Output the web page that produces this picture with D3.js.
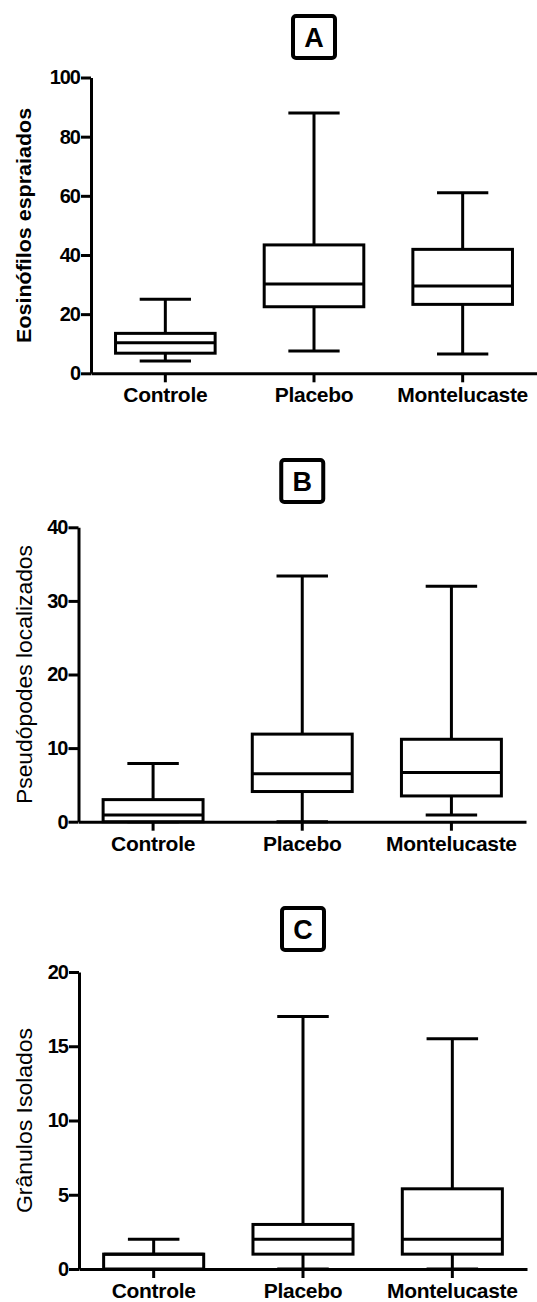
<!DOCTYPE html>
<html>
<head>
<meta charset="utf-8">
<script src="https://cdn.jsdelivr.net/npm/d3@7"></script>
<style>
body { margin: 0; background: #fff; }
</style>
</head>
<body>
<div id="chart"></div>
<script>
var groups = ["Controle", "Placebo", "Montelucaste"];

// each row: [min, q1, median, q3, max]
var eosinofilos = [[4.2, 6.8, 10.3, 13.5, 25], [7.5, 22.5, 30.2, 43.4, 88], [6.5, 23.3, 29.5, 41.9, 61]];
var pseudopodes = [[0, 0, 0.9, 3, 7.9], [0, 4.1, 6.5, 11.9, 33.4], [0.9, 3.5, 6.7, 11.2, 32]];
var granulos = [[0, 0, 1, 1, 2], [0, 1, 2, 3, 17], [0, 1, 2, 5.4, 15.5]];

var ticksA = [0, 20, 40, 60, 80, 100];
var ticksB = [0, 10, 20, 30, 40];
var ticksC = [0, 5, 10, 15, 20];

var titles = ["A", "B", "C"];
var yLabels = ["Eosinófilos espraiados", "Pseudópodes localizados", "Grânulos Isolados"];

var font = "'Liberation Sans', Arial, Helvetica, sans-serif";

var svg = d3.select("#chart")
  .append("svg")
    .attr("width", 537)
    .attr("height", 1302);

// layout of the three stacked panels
var panels = [
  {stats: eosinofilos, ticks: ticksA, left: 91, right: 537, top: 77.5, bottom: 373.3, titleTop: 14, labelBold: true, labelLen: 235},
  {stats: pseudopodes, ticks: ticksB, left: 78.5, right: 526, top: 527.3, bottom: 821.7, titleTop: 458, labelBold: false, labelLen: 259},
  {stats: granulos, ticks: ticksC, left: 79, right: 527, top: 972, bottom: 1269, titleTop: 906, labelBold: false, labelLen: 185}
];

panels.forEach(function(p, i) {
  var g = svg.append("g");

  var x = d3.scaleBand()
    .domain(groups)
    .range([p.left, p.right]);

  var y = d3.scaleLinear()
    .domain([0, d3.max(p.ticks)])
    .range([p.bottom, p.top]);

  // y axis
  var ya = g.append("g")
    .attr("transform", "translate(" + p.left + ",0)")
    .call(d3.axisLeft(y).tickValues(p.ticks).tickSize(10).tickSizeOuter(0).tickPadding(1));
  ya.selectAll("path, line").attr("stroke", "#000").attr("stroke-width", 3);
  ya.selectAll("text")
    .attr("font-family", font)
    .attr("font-size", 20)
    .attr("font-weight", "bold")
    .attr("letter-spacing", -1)
    .attr("fill", "#000");

  // x axis
  var xa = g.append("g")
    .attr("transform", "translate(0," + p.bottom + ")")
    .call(d3.axisBottom(x).tickSize(9).tickSizeOuter(0).tickPadding(5));
  xa.selectAll("path, line").attr("stroke", "#000").attr("stroke-width", 3);
  xa.selectAll("text")
    .attr("font-family", font)
    .attr("font-size", 21)
    .attr("font-weight", "bold")
    .attr("letter-spacing", -0.3)
    .attr("fill", "#000");

  var step = x.step();
  var boxW = step * 0.67;
  var capW = step * 0.345;

  var box = g.selectAll(".box")
    .data(p.stats)
    .join("g")
      .attr("class", "box")
      .attr("transform", function(d, j) { return "translate(" + (x(groups[j]) + x.bandwidth() / 2) + ",0)"; });

  // whiskers
  box.append("line")
    .attr("x1", 0).attr("x2", 0)
    .attr("y1", function(d) { return y(d[3]); })
    .attr("y2", function(d) { return y(d[4]); });
  box.append("line")
    .attr("x1", 0).attr("x2", 0)
    .attr("y1", function(d) { return y(d[1]); })
    .attr("y2", function(d) { return y(d[0]); });
  box.append("line")
    .attr("x1", -capW / 2).attr("x2", capW / 2)
    .attr("y1", function(d) { return y(d[4]); })
    .attr("y2", function(d) { return y(d[4]); });
  box.append("line")
    .attr("x1", -capW / 2).attr("x2", capW / 2)
    .attr("y1", function(d) { return y(d[0]); })
    .attr("y2", function(d) { return y(d[0]); });

  box.append("rect")
    .attr("x", -boxW / 2)
    .attr("width", boxW)
    .attr("y", function(d) { return y(d[3]); })
    .attr("height", function(d) { return y(d[1]) - y(d[3]); })
    .attr("fill", "#fff");

  box.append("line")
    .attr("x1", -boxW / 2).attr("x2", boxW / 2)
    .attr("y1", function(d) { return y(d[2]); })
    .attr("y2", function(d) { return y(d[2]); });

  box.selectAll("line, rect")
    .attr("stroke", "#000")
    .attr("stroke-width", 3);

  // y axis title
  var cy = (p.top + p.bottom) / 2;
  g.append("text")
    .attr("transform", "translate(24," + cy + ") rotate(-90)")
    .attr("text-anchor", "middle")
    .attr("dy", "0.35em")
    .attr("font-family", font)
    .attr("font-size", p.labelBold ? 21 : 22)
    .attr("font-weight", p.labelBold ? "bold" : "normal")
    .attr("textLength", p.labelLen)
    .attr("lengthAdjust", "spacingAndGlyphs")
    .text(yLabels[i]);

  // boxed panel letter above the middle group
  var tx = x(groups[1]) + x.bandwidth() / 2;
  g.append("rect")
    .attr("x", tx - 21)
    .attr("y", p.titleTop + 2)
    .attr("width", 42)
    .attr("height", 42)
    .attr("rx", 3)
    .attr("fill", "none")
    .attr("stroke", "#000")
    .attr("stroke-width", 4);
  g.append("text")
    .attr("x", tx)
    .attr("y", p.titleTop + 23)
    .attr("dy", "0.36em")
    .attr("text-anchor", "middle")
    .attr("font-family", font)
    .attr("font-size", 27)
    .attr("font-weight", "bold")
    .text(titles[i]);
});
</script>
</body>
</html>
